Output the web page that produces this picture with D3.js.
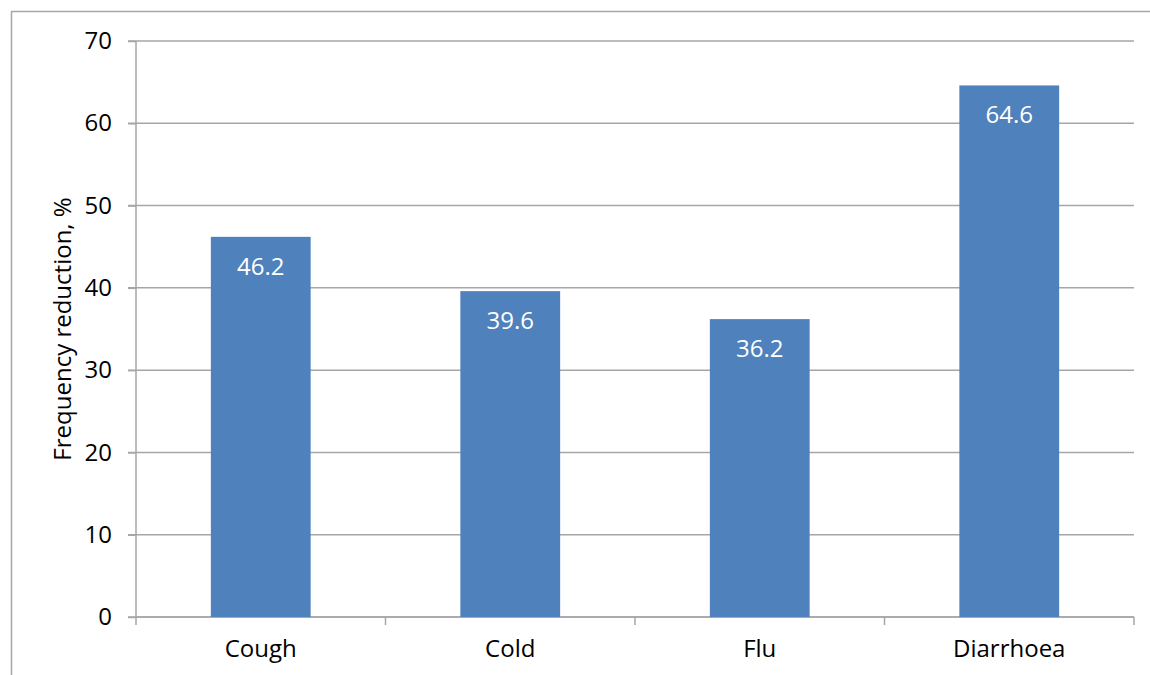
<!DOCTYPE html>
<html><head><meta charset="utf-8">
<script src="https://cdn.jsdelivr.net/npm/d3@7"></script>
<style>body{margin:0;background:#fff}svg{display:block}text{font-family:"Open Sans",sans-serif}</style>
</head><body><svg id="c" width="1150" height="675"></svg>
<script>
const categories = ["Cough", "Cold", "Flu", "Diarrhoea"];
const values = [46.2, 39.6, 36.2, 64.6];
const yTicks = [0, 10, 20, 30, 40, 50, 60, 70];
const yTitle = "Frequency reduction, %";

const svg = d3.select("#c");
const gridColor = "#a6a6a6";
const fs = 24;
const m = {l: 136, r: 1134, t: 41, b: 617};
svg.append("rect").attr("x", 11.5).attr("y", 11.5).attr("width", 1200).attr("height", 700)
  .attr("fill", "none").attr("stroke", gridColor).attr("stroke-width", 1.5);

const x = d3.scaleBand().domain(categories).range([m.l, m.r]).paddingInner(0.6).paddingOuter(0.3);
const xb = d3.scaleBand().domain(categories).range([m.l, m.r]);
const y = d3.scaleLinear().domain([0, 70]).range([m.b, m.t]);

// gridlines
svg.append("g").selectAll("line").data(yTicks).join("line")
  .attr("x1", m.l - 8).attr("x2", m.r).attr("y1", d => y(d)).attr("y2", d => y(d))
  .attr("stroke", gridColor).attr("stroke-width", 1.5);

// y axis
const ya = svg.append("g").attr("transform", `translate(${m.l},0)`)
  .call(d3.axisLeft(y).tickValues(yTicks).tickSize(8).tickPadding(16));
ya.select(".domain").attr("stroke", gridColor).attr("stroke-width", 1.5).attr("d", `M0,${m.t}V${m.b}`);
ya.selectAll(".tick line").attr("stroke", gridColor).attr("stroke-width", 1.5);
ya.selectAll(".tick text").attr("font-size", fs).attr("fill", "#000").attr("font-family", "Open Sans");

// x axis
const xa = svg.append("g").attr("transform", `translate(0,${m.b})`)
  .call(d3.axisBottom(xb).tickSize(0).tickPadding(23));
xa.select(".domain").attr("stroke", gridColor).attr("stroke-width", 1.5).attr("d", `M${m.l},0H${m.r}`);
xa.selectAll(".tick text").attr("font-size", fs).attr("fill", "#000").attr("font-family", "Open Sans");
const bounds = [m.l].concat(categories.map(c => xb(c) + xb.bandwidth()));
svg.append("g").selectAll("line").data(bounds).join("line")
  .attr("x1", d => d).attr("x2", d => d).attr("y1", m.b).attr("y2", m.b + 8)
  .attr("stroke", gridColor).attr("stroke-width", 1.5);

// bars
svg.append("g").selectAll("rect").data(values).join("rect")
  .attr("x", (d, i) => x(categories[i])).attr("width", x.bandwidth())
  .attr("y", d => y(d)).attr("height", d => y(0) - y(d)).attr("fill", "#4f81bd");

svg.append("g").selectAll("text").data(values).join("text")
  .attr("x", (d, i) => x(categories[i]) + x.bandwidth() / 2).attr("y", d => y(d) + 38)
  .attr("text-anchor", "middle").attr("font-size", fs).attr("fill", "#fff")
  .text(d => d.toFixed(1));

svg.append("text").attr("transform", `translate(71,${(m.t + m.b) / 2}) rotate(-90)`)
  .attr("text-anchor", "middle").attr("font-size", 24).attr("fill", "#000").text(yTitle);
</script></body></html>
